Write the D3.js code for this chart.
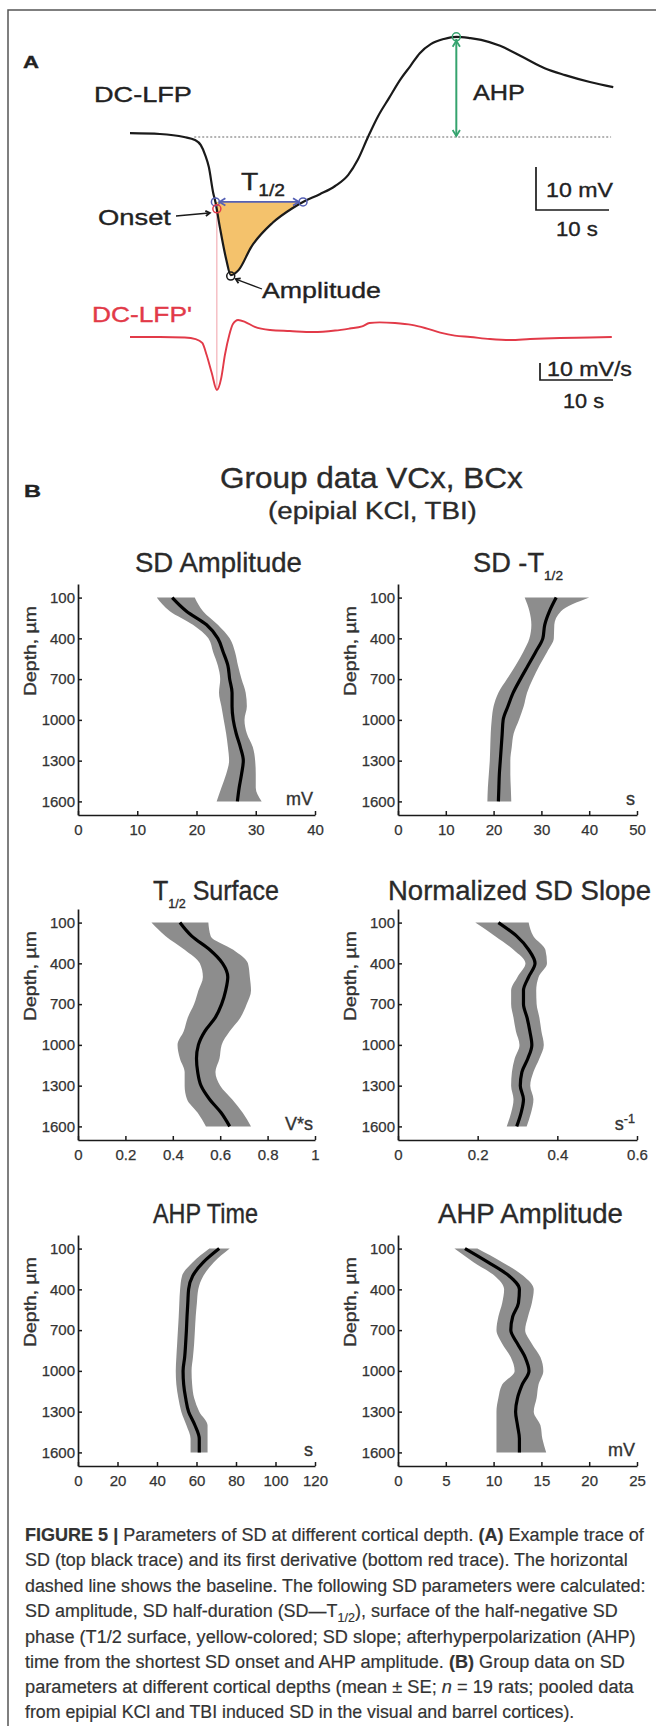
<!DOCTYPE html>
<html><head><meta charset="utf-8">
<script src="https://cdn.jsdelivr.net/npm/d3@7"></script>
<style>
body{margin:0;background:#fff}
text{font-family:"Liberation Sans",Arial,Helvetica,sans-serif}
</style>
</head><body>
<svg id="c" width="656" height="1726"></svg>
<script>
// ---------------- DATA ----------------
// Panel A: example DC-LFP trace (time in s, potential in mV relative to baseline)
const traceT  = [0, 4.1, 7.4, 8.9, 9.7, 10.3, 10.8, 11.4, 11.7, 12.3, 13.2, 13.8, 14.9, 16.6, 19.5, 22.3, 23.7, 26.0, 28.1, 29.9, 31.2, 32.6, 34.0, 35.5, 37.0, 38.4, 39.7, 41.2, 43.0, 44.7, 46.6, 48.1, 50.7, 53.8, 56.8, 59.6, 63.0, 66.2];
const traceMv = [0.9, 0.7, 0, -0.7, -1.9, -4.2, -7.0, -13.0, -15.1, -20.9, -28.6, -32.1, -30.9, -25.6, -20.0, -16.5, -15.1, -13.3, -11.4, -8.8, -5.3, 0, 4.9, 9.1, 13.3, 16.5, 19.5, 21.6, 22.8, 23.3, 23.0, 22.6, 21.2, 18.6, 16.0, 14.4, 12.8, 11.6];
// First derivative DC-LFP' (mV/s)
const derivT   = [0, 4.1, 7.5, 9.0, 9.9, 10.5, 11.2, 11.9, 12.5, 13.0, 13.6, 14.1, 14.8, 15.8, 17.1, 19.2, 21.9, 25.1, 28.1, 30.1, 31.8, 32.8, 34.2, 36.3, 38.6, 40.4, 42.5, 44.5, 46.6, 49.3, 52.1, 54.8, 58.9, 63.0, 66.0];
const derivVal = [0, 0, -0.3, -1.2, -3.5, -10.6, -21.2, -31.2, -24.1, -10.6, 1.2, 7.6, 10.0, 8.8, 5.9, 4.1, 3.5, 2.9, 3.8, 5.0, 6.2, 8.2, 8.6, 8.2, 7.1, 5.3, 2.6, 0.8, 0, -1.2, -1.8, -1.2, -0.6, -0.3, 0];
// Marked points
const halfT = [11.7, 23.7], halfMv = -15.1;
const onsetT = 11.9, onsetMv = -16.7;
const minT = 13.8, minMv = -32.1;
const ahpT = 44.7, ahpMv = 23.3;

// Panel B: depth profiles (mean and mean±SE)
const depthLevels = [100, 200, 300, 400, 500, 600, 700, 800, 900, 1000, 1100, 1200, 1300, 1400, 1500, 1600];
const depthTicks = [100, 400, 700, 1000, 1300, 1600];

const sdAmpMean = [15.9, 18.3, 21.7, 23.6, 24.5, 25.3, 25.6, 26.0, 26.0, 26.2, 26.7, 27.4, 27.9, 27.6, 27.2, 26.9];
const sdAmpLo   = [13.3, 15.5, 19.4, 22.0, 22.8, 23.6, 24.0, 23.8, 24.2, 24.6, 25.0, 25.3, 25.5, 25.0, 24.2, 23.4];
const sdAmpHi   = [19.7, 21.1, 23.6, 25.6, 26.5, 27.0, 27.6, 28.3, 28.5, 28.1, 28.5, 29.5, 29.9, 30.0, 30.0, 31.0];
const sdAmpTicks = [0, 10, 20, 30, 40];

const t12Mean = [33.1, 31.7, 30.7, 30.3, 28.8, 27.2, 25.6, 24.1, 23.0, 22.0, 21.8, 21.6, 21.4, 21.2, 21.1, 21.0];
const t12Lo   = [26.5, 27.5, 27.9, 27.5, 26.2, 24.6, 22.8, 21.0, 20.0, 19.6, 19.4, 19.3, 19.2, 19.0, 18.8, 18.7];
const t12Hi   = [40.0, 34.1, 32.7, 32.6, 31.2, 29.6, 28.2, 27.0, 26.3, 25.3, 24.2, 23.8, 23.5, 23.5, 23.6, 23.7];
const t12Ticks = [0, 10, 20, 30, 40, 50];

const surfMean = [0.43, 0.48, 0.556, 0.61, 0.632, 0.623, 0.606, 0.579, 0.535, 0.508, 0.50, 0.505, 0.519, 0.555, 0.604, 0.64];
const surfLo   = [0.31, 0.37, 0.45, 0.514, 0.527, 0.508, 0.49, 0.463, 0.446, 0.42, 0.43, 0.45, 0.45, 0.46, 0.505, 0.54];
const surfHi   = [0.55, 0.56, 0.655, 0.717, 0.725, 0.73, 0.712, 0.685, 0.64, 0.606, 0.597, 0.58, 0.60, 0.65, 0.695, 0.73];
const surfTicks = [0, 0.2, 0.4, 0.6, 0.8, 1];

const slopeMean = [0.252, 0.298, 0.328, 0.344, 0.328, 0.315, 0.315, 0.324, 0.331, 0.336, 0.326, 0.311, 0.307, 0.315, 0.309, 0.298];
const slopeLo   = [0.194, 0.244, 0.29, 0.32, 0.30, 0.284, 0.284, 0.29, 0.296, 0.305, 0.293, 0.286, 0.284, 0.29, 0.284, 0.273];
const slopeHi   = [0.328, 0.34, 0.37, 0.374, 0.353, 0.347, 0.348, 0.355, 0.36, 0.366, 0.355, 0.34, 0.332, 0.34, 0.334, 0.323];
const slopeTicks = [0, 0.2, 0.4, 0.6];

const ahpTimeMean = [71.5, 63.5, 58.1, 56.0, 55.6, 55.2, 54.9, 54.5, 54.0, 53.2, 53.5, 54.5, 56.0, 59.2, 61.4, 61.4];
const ahpTimeLo   = [66.5, 58.1, 52.7, 51.7, 51.3, 51.0, 50.6, 50.2, 49.8, 49.5, 49.8, 50.8, 52.3, 54.9, 57.0, 57.0];
const ahpTimeHi   = [76.8, 68.8, 63.5, 60.9, 60.2, 59.6, 59.2, 58.8, 58.2, 57.5, 57.8, 58.8, 61.4, 65.6, 65.6, 65.6];
const ahpTimeTicks = [0, 20, 40, 60, 80, 100, 120];

const ahpAmpMean = [7.0, 9.4, 11.6, 12.7, 12.6, 12.0, 11.8, 12.5, 13.3, 13.7, 13.0, 12.5, 12.3, 12.5, 12.7, 12.7];
const ahpAmpLo   = [5.9, 7.9, 10.1, 11.1, 10.9, 10.5, 10.3, 10.9, 11.8, 12.2, 10.9, 10.5, 10.3, 10.3, 10.3, 10.3];
const ahpAmpHi   = [8.3, 10.9, 13.1, 14.2, 14.0, 13.6, 13.3, 14.0, 14.9, 15.2, 14.7, 14.5, 14.2, 14.9, 15.1, 15.5];
const ahpAmpTicks = [0, 5, 10, 15, 20, 25];

// ---------------- DRAW ----------------
const svg = d3.select("#c");
const INK = "#222";

// text with optional horizontal fit to a target width (via scale transform)
function rich(parent, x, y, parts, size, w, o = {}) {
  const fill = o.fill || INK;
  const t = parent.append("text").attr("x", 0).attr("y", 0)
    .attr("font-size", size).attr("fill", fill)
    .attr("stroke", fill).attr("stroke-width", o.sw == null ? 0.35 : o.sw);
  if (o.anchor) t.attr("text-anchor", o.anchor);
  if (o.weight) t.attr("font-weight", o.weight);
  let shift = 0;
  parts.forEach(p => {
    if (typeof p === "string") p = {t: p};
    const s = t.append("tspan").text(p.t);
    let want = 0;
    if (p.sub) { s.attr("font-size", size * (p.scale || 0.62)); want = size * 0.28; }
    if (p.sup) { s.attr("font-size", size * (p.scale || 0.62)); want = -size * 0.38; }
    if (p.b) s.attr("font-weight", "bold");
    if (p.i) s.attr("font-style", "italic");
    if (want !== shift) { s.attr("dy", want - shift); shift = want; }
  });
  let sx = 1;
  if (w) {
    const nat = t.node().getComputedTextLength();
    if (nat > 0) sx = w / nat;
  }
  t.attr("transform", `translate(${x},${y})${o.rot ? ` rotate(${o.rot})` : ""} scale(${sx},1)`);
  return t;
}

// Frame
svg.append("path").attr("d", "M8,1726V10H656").attr("fill", "none")
  .attr("stroke", "#555").attr("stroke-width", 1.5);

// ======== Panel A ========
const gA = svg.append("g");
const xA = d3.scaleLinear().domain([0, 10]).range([130, 203]);   // 10 s -> 73 px
const yA = d3.scaleLinear().domain([0, 10]).range([137, 94]);    // 10 mV -> 43 px
const yD = d3.scaleLinear().domain([0, 10]).range([337, 320]);   // 10 mV/s -> 17 px

const trace = traceT.map((t, i) => ({t, v: traceMv[i]}));
const deriv = derivT.map((t, i) => ({t, v: derivVal[i]}));

// baseline (dotted)
gA.append("line").attr("x1", xA(8.8)).attr("x2", xA(65.9)).attr("y1", yA(0)).attr("y2", yA(0))
  .attr("stroke", "#9a9a9a").attr("stroke-width", 1.3).attr("stroke-dasharray", "2,2");

// yellow T1/2 surface
const half = trace.filter(d => d.t >= halfT[0] && d.t <= halfT[1]);
gA.append("path").datum(half)
  .attr("d", d3.area().x(d => xA(d.t)).y0(yA(halfMv)).y1(d => yA(d.v)).curve(d3.curveMonotoneX))
  .attr("fill", "#f4c26c");

// onset vertical red line
gA.append("line").attr("x1", xA(onsetT)).attr("x2", xA(onsetT))
  .attr("y1", yA(onsetMv)).attr("y2", yD(-31.2))
  .attr("stroke", "#f0a0a8").attr("stroke-width", 1);

// black trace
gA.append("path").datum(trace)
  .attr("d", d3.line().x(d => xA(d.t)).y(d => yA(d.v)).curve(d3.curveMonotoneX))
  .attr("fill", "none").attr("stroke", "#1a1a1a").attr("stroke-width", 2.2);

// red derivative trace
gA.append("path").datum(deriv)
  .attr("d", d3.line().x(d => xA(d.t)).y(d => yD(d.v)).curve(d3.curveMonotoneX))
  .attr("fill", "none").attr("stroke", "#e23a48").attr("stroke-width", 1.9);

// arrow heads (chevrons)
function chevron(g, x, y, ang, col, len = 7) {
  const a = ang * Math.PI / 180, s = 0.55;
  const p1 = [x - len * Math.cos(a - s), y - len * Math.sin(a - s)];
  const p2 = [x - len * Math.cos(a + s), y - len * Math.sin(a + s)];
  g.append("path").attr("d", `M${p1}L${x},${y}L${p2}`).attr("fill", "none")
    .attr("stroke", col).attr("stroke-width", 1.8);
}

// T1/2 blue arrow
const blue = "#5560b4";
const ya = yA(halfMv);
gA.append("line").attr("x1", xA(halfT[0]) + 4).attr("x2", xA(halfT[1]) - 4).attr("y1", ya).attr("y2", ya)
  .attr("stroke", blue).attr("stroke-width", 1.8);
chevron(gA, xA(halfT[0]) + 4, ya, 180, blue);
chevron(gA, xA(halfT[1]) - 4, ya, 0, blue);
halfT.forEach(t => gA.append("circle").attr("cx", xA(t)).attr("cy", ya).attr("r", 4)
  .attr("fill", "none").attr("stroke", blue).attr("stroke-width", 1.5));
// onset red circle
gA.append("circle").attr("cx", xA(onsetT)).attr("cy", yA(onsetMv)).attr("r", 4)
  .attr("fill", "none").attr("stroke", "#e23a48").attr("stroke-width", 1.5);
// amplitude black circle
gA.append("circle").attr("cx", xA(minT)).attr("cy", yA(minMv) + 1).attr("r", 4)
  .attr("fill", "none").attr("stroke", "#1a1a1a").attr("stroke-width", 1.5);

// AHP green arrow
const green = "#35a36e";
gA.append("line").attr("x1", xA(ahpT)).attr("x2", xA(ahpT)).attr("y1", yA(ahpMv) + 2).attr("y2", yA(0) - 1)
  .attr("stroke", green).attr("stroke-width", 2);
chevron(gA, xA(ahpT), yA(ahpMv) + 4, -90, green);
chevron(gA, xA(ahpT), yA(0) - 1, 90, green);
gA.append("circle").attr("cx", xA(ahpT)).attr("cy", yA(ahpMv)).attr("r", 4)
  .attr("fill", "none").attr("stroke", green).attr("stroke-width", 1.5);

// pointer arrows for labels
gA.append("line").attr("x1", 176).attr("y1", 216).attr("x2", xA(onsetT) - 8).attr("y2", 213)
  .attr("stroke", "#1a1a1a").attr("stroke-width", 1.3);
chevron(gA, xA(onsetT) - 7, 213, -6, "#1a1a1a", 5);
gA.append("line").attr("x1", 262).attr("y1", 289).attr("x2", xA(minT) + 5).attr("y2", yA(minMv) + 4)
  .attr("stroke", "#1a1a1a").attr("stroke-width", 1.3);
chevron(gA, xA(minT) + 5, yA(minMv) + 4, 205, "#1a1a1a", 5);

// scale bars
function scaleBar(g, x, y, vLen, hLen) {
  g.append("path").attr("d", `M${x},${y - vLen}V${y}H${x + hLen}`).attr("fill", "none")
    .attr("stroke", "#1a1a1a").attr("stroke-width", 1.7);
}
scaleBar(gA, 536, 210, yA(0) - yA(10), xA(10) - xA(0));
scaleBar(gA, 540, 380, yD(0) - yD(10), xA(10) - xA(0));

// texts panel A
rich(gA, 23, 68, ["A"], 17, 16, {weight: "bold"});
rich(gA, 94, 102, ["DC-LFP"], 22, 98);
rich(gA, 473, 100, ["AHP"], 22, 52);
rich(gA, 241, 190, [{t: "T"}, {t: "1/2", sub: true, scale: 0.68}], 23, 44);
rich(gA, 98, 225, ["Onset"], 22, 73);
rich(gA, 262, 298, ["Amplitude"], 22, 119);
rich(gA, 92, 322, ["DC-LFP'"], 22, 100, {fill: "#e23a48"});
rich(gA, 546, 197, ["10 mV"], 20, 67);
rich(gA, 556, 236, ["10 s"], 20, 42);
rich(gA, 547, 376, ["10 mV/s"], 20, 85);
rich(gA, 563, 408, ["10 s"], 20, 41);

// ======== Panel B ========
const gB = svg.append("g");
rich(gB, 24, 497, ["B"], 17, 17, {weight: "bold"});
rich(gB, 220, 488, ["Group data VCx, BCx"], 29, 303, {fill: "#2a2a2a"});
rich(gB, 268, 519, ["(epipial KCl, TBI)"], 24, 209, {fill: "#2a2a2a"});

const panels = [
  {title: ["SD Amplitude"], tx: 135, tw: 167, unit: ["mV"], mean: sdAmpMean, lo: sdAmpLo, hi: sdAmpHi, ticks: sdAmpTicks},
  {title: ["SD -T", {t: "1/2", sub: true, scale: 0.5}], tx: 473, tw: 90, unit: ["s"], mean: t12Mean, lo: t12Lo, hi: t12Hi, ticks: t12Ticks},
  {title: ["T", {t: "1/2", sub: true, scale: 0.5}, {t: " Surface"}], tx: 153, tw: 126, unit: ["V*s"], mean: surfMean, lo: surfLo, hi: surfHi, ticks: surfTicks},
  {title: ["Normalized SD Slope"], tx: 388, tw: 263, unit: ["s", {t: "-1", sup: true, scale: 0.7}], mean: slopeMean, lo: slopeLo, hi: slopeHi, ticks: slopeTicks},
  {title: ["AHP Time"], tx: 153, tw: 105, unit: ["s"], mean: ahpTimeMean, lo: ahpTimeLo, hi: ahpTimeHi, ticks: ahpTimeTicks},
  {title: ["AHP Amplitude"], tx: 438, tw: 185, unit: ["mV"], mean: ahpAmpMean, lo: ahpAmpLo, hi: ahpAmpHi, ticks: ahpAmpTicks}
];
const colX0 = [78, 398], colX1 = [315, 637];
const rowTop = [584, 909, 1235], plotH = 231;
const titleBase = [572, 900, 1223];

panels.forEach((p, i) => {
  const col = i % 2, row = Math.floor(i / 2);
  const x = d3.scaleLinear().domain([0, p.ticks[p.ticks.length - 1]]).range([colX0[col], colX1[col]]);
  const y = d3.scaleLinear().domain([0, 1700]).range([rowTop[row], rowTop[row] + plotH]);
  const g = gB.append("g");
  const pts = depthLevels.map((d, k) => ({d, m: p.mean[k], lo: p.lo[k], hi: p.hi[k]}));
  g.append("path").datum(pts)
    .attr("d", d3.area().y(d => y(d.d)).x0(d => x(d.lo)).x1(d => x(d.hi)).curve(d3.curveMonotoneY))
    .attr("fill", "#8d8d8d");
  g.append("path").datum(pts)
    .attr("d", d3.line().y(d => y(d.d)).x(d => x(d.m)).curve(d3.curveMonotoneY))
    .attr("fill", "none").attr("stroke", "#000").attr("stroke-width", 3.2);

  const ax = g.append("g").attr("transform", `translate(0,${y(1700)})`)
    .call(d3.axisBottom(x).tickValues(p.ticks).tickSize(-4).tickSizeOuter(0).tickPadding(9)
      .tickFormat(d => String(d)));
  const ay = g.append("g").attr("transform", `translate(${x(0)},0)`)
    .call(d3.axisLeft(y).tickValues(depthTicks).tickSize(-4).tickSizeOuter(0).tickPadding(3)
      .tickFormat(d => String(d)));
  [ax, ay].forEach(a => {
    a.attr("font-family", null).attr("font-size", 15);
    a.selectAll(".domain").attr("stroke", "#1a1a1a").attr("stroke-width", 1.7);
    a.selectAll(".tick line").attr("stroke", "#1a1a1a").attr("stroke-width", 1.5);
    a.selectAll("text").attr("fill", "#333").attr("stroke", "#333").attr("stroke-width", 0.25);
  });

  // title
  rich(g, p.tx, titleBase[row], p.title, 27, p.tw, {fill: "#2a2a2a"});
  // unit label
  rich(g, colX1[col] - 2, y(1700) - 10, p.unit, 18, null, {anchor: "end", fill: "#333"});
  // y-axis label
  rich(g, colX0[col] - 42, rowTop[row] + 67, ["Depth, µm"], 16, 90,
    {anchor: "middle", fill: "#333", rot: -90});
});

// ======== Caption ========
const gC = svg.append("g");
const capLines = [
  [{t: "FIGURE 5 | ", b: true}, "Parameters of SD at different cortical depth. ", {t: "(A)", b: true}, " Example trace of"],
  ["SD (top black trace) and its first derivative (bottom red trace). The horizontal"],
  ["dashed line shows the baseline. The following SD parameters were calculated:"],
  ["SD amplitude, SD half-duration (SD\u2014T", {t: "1/2", sub: true, scale: 0.7}, {t: "), surface of the half-negative SD"}],
  ["phase (T1/2 surface, yellow-colored; SD slope; afterhyperpolarization (AHP)"],
  ["time from the shortest SD onset and AHP amplitude. ", {t: "(B)", b: true}, " Group data on SD"],
  ["parameters at different cortical depths (mean \u00b1 SE; ", {t: "n", i: true}, " = 19 rats; pooled data"],
  ["from epipial KCl and TBI induced SD in the visual and barrel cortices)."]
];
const capBase = [1541, 1566, 1592, 1617, 1643, 1668, 1693, 1718];
const capWidth = [619, 603, 621, 593, 611, 600, 609, 550];
capLines.forEach((parts, i) => rich(gC, 25, capBase[i], parts, 19, capWidth[i], {fill: "#333", sw: 0.2}));
</script>
</body></html>
